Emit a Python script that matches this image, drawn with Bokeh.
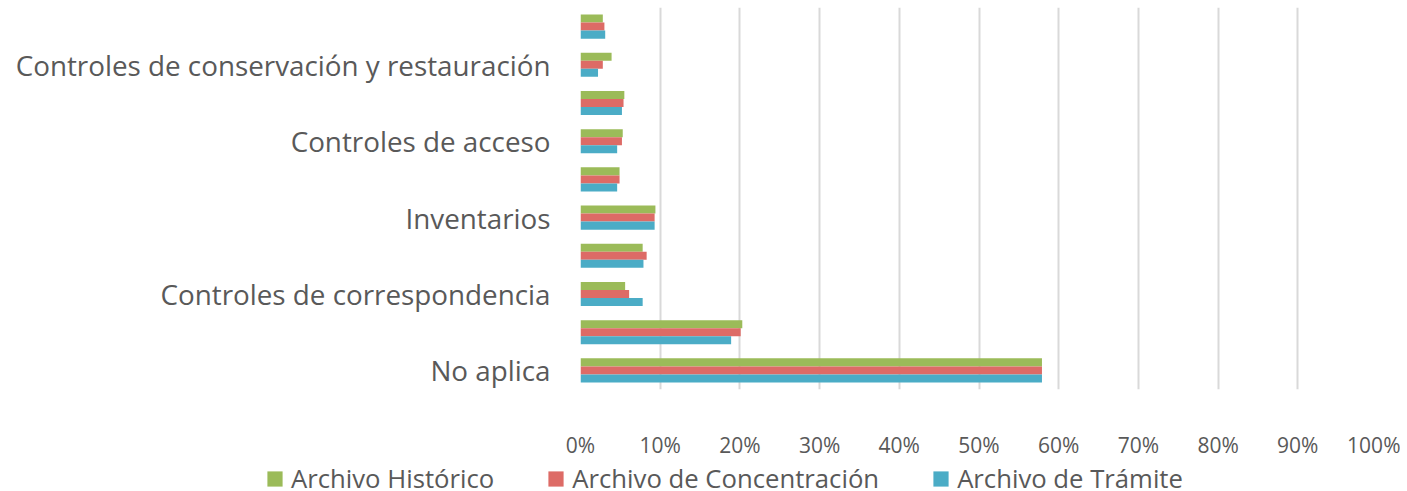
from bokeh.plotting import figure
from bokeh.models import (ColumnDataSource, FixedTicker, NumeralTickFormatter,
                          Legend, LegendItem)
from bokeh.transform import dodge
from bokeh.embed import file_html
from bokeh.resources import INLINE

# ---- data (bottom to top) ----
categories = ["No aplica", "", "Controles de correspondencia", "", "Inventarios", "",
              "Controles de acceso", "", "Controles de conservación y restauración", ""]
historico = [0.579, 0.203, 0.056, 0.078, 0.094, 0.049, 0.053, 0.055, 0.039, 0.028]
concentracion = [0.579, 0.201, 0.061, 0.083, 0.093, 0.049, 0.052, 0.054, 0.028, 0.030]
tramite = [0.579, 0.189, 0.078, 0.079, 0.093, 0.046, 0.046, 0.052, 0.022, 0.031]
series_names = ["Archivo Histórico", "Archivo de Concentración", "Archivo de Trámite"]
colors = ["#9BBB59", "#DD6B66", "#4BACC6"]
x_ticks = [i / 10 for i in range(11)]

pos = list(range(1, len(categories) + 1))
src = ColumnDataSource(dict(pos=pos, h=historico, c=concentracion, t=tramite))

FONT = "Open Sans"
GREY = "#595959"

p = figure(frame_width=797, frame_height=382, x_range=(0, 1),
           y_range=(0.5, len(categories) + 0.5),
           output_backend="svg", toolbar_location=None,
           min_border_left=580, min_border_right=23, min_border_top=7, min_border_bottom=60)
p.outline_line_color = None

bh = 0.21
for col, off, colr in zip(["h", "c", "t"], [bh, 0, -bh], colors):
    p.hbar(y=dodge("pos", off, range=p.y_range), right=col, left=0, height=bh, source=src,
           fill_color=colr, line_color=None)

# x axis
p.xaxis.ticker = FixedTicker(ticks=x_ticks)
p.xaxis.formatter = NumeralTickFormatter(format="0%")
p.xaxis.axis_line_color = None
p.xaxis.major_tick_line_color = None
p.xaxis.minor_tick_line_color = None
p.xaxis.major_label_text_font = FONT
p.xaxis.major_label_text_font_size = "21px"
p.xaxis.major_label_text_color = GREY
p.xaxis.major_label_standoff = 35

# y axis
labelled = [i for i, c in zip(pos, categories) if c]
p.yaxis.ticker = FixedTicker(ticks=labelled)
p.yaxis.major_label_overrides = {i: c for i, c in zip(pos, categories) if c}
p.yaxis.axis_line_color = None
p.yaxis.major_tick_line_color = None
p.yaxis.minor_tick_line_color = None
p.yaxis.major_label_text_font = FONT
p.yaxis.major_label_text_font_size = "27.8px"
p.yaxis.major_label_text_color = GREY
p.yaxis.major_label_standoff = 24

p.ygrid.grid_line_color = None
p.xgrid.grid_line_color = "#D9D9D9"
p.xgrid.grid_line_width = 2

# legend strip: a separate root, legend swatches from zero-length bars
pl = figure(width=1400, height=36, x_range=(0, 1), y_range=(0, 1),
            x_axis_type=None, y_axis_type=None,
            output_backend="svg", toolbar_location=None,
            min_border_left=0, min_border_right=0, min_border_top=0, min_border_bottom=0)
pl.outline_line_color = None
pl.xgrid.grid_line_color = None
pl.ygrid.grid_line_color = None
swatch = ColumnDataSource(dict(y=[0.5], r=[0.0]))
items = []
for name, colr in zip(series_names, colors):
    rr = pl.hbar(y="y", right="r", left=0, height=0.5, source=swatch,
                 fill_color=colr, line_color=None)
    items.append(LegendItem(label=name, renderers=[rr]))

legend = Legend(items=items, orientation="horizontal", location=(265, 1),
                label_text_font=FONT, label_text_font_size="25.7px", label_text_color=GREY,
                glyph_width=19, glyph_height=19, label_standoff=7, spacing=52,
                padding=0, margin=0, border_line_color=None, background_fill_alpha=0)
pl.add_layout(legend)

open("out.html", "w").write(file_html([p, pl], INLINE))
